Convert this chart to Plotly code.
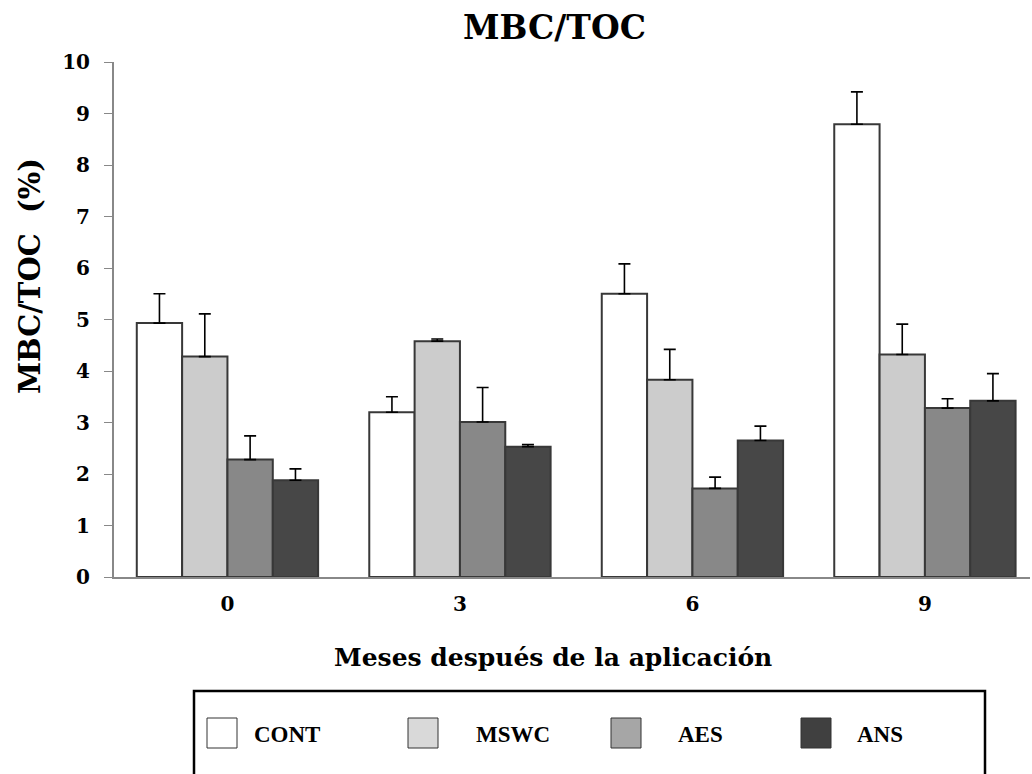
import plotly.graph_objects as go

months = ["0", "3", "6", "9"]
series = ["CONT", "MSWC", "AES", "ANS"]
values = {
    "CONT": [4.93, 3.20, 5.50, 8.79],
    "MSWC": [4.28, 4.58, 3.83, 4.32],
    "AES":  [2.28, 3.01, 1.72, 3.28],
    "ANS":  [1.88, 2.53, 2.65, 3.42],
}
errors = {
    "CONT": [0.57, 0.30, 0.58, 0.63],
    "MSWC": [0.83, 0.04, 0.59, 0.59],
    "AES":  [0.46, 0.67, 0.22, 0.18],
    "ANS":  [0.22, 0.04, 0.28, 0.53],
}
bar_colors = {"CONT": "#ffffff", "MSWC": "#cccccc", "AES": "#888888", "ANS": "#474747"}
legend_colors = {"CONT": "#ffffff", "MSWC": "#d9d9d9", "AES": "#a6a6a6", "ANS": "#404040"}

serif = "DejaVu Serif"
fig = go.Figure()
for s in series:
    fig.add_trace(go.Bar(
        x=months, y=values[s], name=s,
        marker=dict(color=bar_colors[s], line=dict(color="#383838", width=2)),
        error_y=dict(type="data", array=errors[s], arrayminus=[0] * len(months),
                     symmetric=False, color="#000000", thickness=1.6, width=6),
        showlegend=False,
    ))

# Pixel helpers for placing the legend box and titles
W, H = 1032, 774
ml, mr, mt, mb = 114, 2, 62, 197
pw, ph = W - ml - mr, H - mt - mb

def px(x):
    return (x - ml) / pw

def py(y):
    return (H - mb - y) / ph

shapes = [dict(type="rect", xref="paper", yref="paper",
               x0=px(194), x1=px(985), y0=py(790), y1=py(691),
               line=dict(color="#000000", width=2.5), fillcolor="rgba(0,0,0,0)")]
annotations = [
    dict(text="<b>MBC/TOC</b>", xref="paper", yref="paper", x=px(554), y=py(28),
         xanchor="center", yanchor="middle", showarrow=False,
         font=dict(family=serif, size=33, color="#000000")),
    dict(text="<b>Meses después de la aplicación</b>", xref="paper", yref="paper",
         x=px(553), y=py(657), xanchor="center", yanchor="middle", showarrow=False,
         font=dict(family=serif, size=25, color="#000000")),
    dict(text="<b>MBC/TOC  (%)</b>", xref="paper", yref="paper", x=px(30), y=py(276),
         xanchor="center", yanchor="middle", showarrow=False, textangle=-90,
         font=dict(family=serif, size=29, color="#000000")),
]
sq_x = [207, 408, 611, 801]
lab_x = [252, 474, 676, 855]
for i, s in enumerate(series):
    shapes.append(dict(type="rect", xref="paper", yref="paper",
                       x0=px(sq_x[i]), x1=px(sq_x[i] + 30), y0=py(748), y1=py(718),
                       line=dict(color="#333333", width=1), fillcolor=legend_colors[s]))
    annotations.append(dict(text="<b>" + s + "</b>", xref="paper", yref="paper",
                            x=px(lab_x[i]), y=py(734),
                            xanchor="left", yanchor="middle", showarrow=False,
                            font=dict(family="Liberation Serif", size=23, color="#000000")))

fig.update_layout(
    width=W, height=H,
    margin=dict(l=ml, r=mr, t=mt, b=mb),
    plot_bgcolor="#ffffff", paper_bgcolor="#ffffff",
    barmode="group", bargap=0.22, bargroupgap=0,
    shapes=shapes, annotations=annotations,
    xaxis=dict(type="category", range=[-0.488, 3.452], showline=True, linecolor="#888888",
               linewidth=2, ticks="", showgrid=False, zeroline=False,
               ticklabelstandoff=8,
               tickprefix="<b>", ticksuffix="</b>",
               tickfont=dict(family=serif, size=20, color="#000000")),
    yaxis=dict(range=[0, 10], dtick=1, showline=True, linecolor="#888888", linewidth=2,
               ticks="outside", ticklen=8, tickcolor="#888888", showgrid=False, zeroline=False,
               ticklabelstandoff=10,
               tickfont=dict(family=serif, size=20, color="#000000"),
               tickprefix="<b>", ticksuffix="</b>"),
)
fig.write_html("out.html")
